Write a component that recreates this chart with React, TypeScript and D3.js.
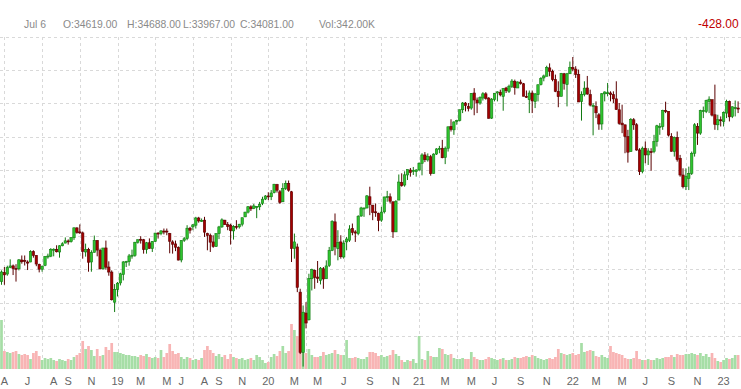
import React, { useEffect } from "react";
import * as d3 from "d3";

const W = 741;
const H = 389;

// Header texts
const HEADER_ITEMS = [
  { text: "Jul 6", x: 24 },
  { text: "O:34619.00", x: 63 },
  { text: "H:34688.00", x: 127 },
  { text: "L:33967.00", x: 183 },
  { text: "C:34081.00", x: 240 },
  { text: "Vol:342.00K", x: 319 },
];
const CHANGE_TEXT = "-428.00";

// Weekly bars (week ending Fridays), from 2018-03-30 to 2023-02-10
const FIRST_WEEK = new Date(2018, 2, 30);
const LAST_WEEK_END = new Date(2023, 1, 11);

const OPEN = [
  23530,24070,23980,24380,24470,24320,24300,24820,24800,24700,
  24700,25320,25100,24560,24270,24500,25010,25050,25450,25460,
  25300,25670,25830,25960,25920,26150,26740,26500,26440,25300,
  25450,24700,25280,25990,25400,24300,25540,24400,24100,22300,
  23060,23450,23950,24700,24720,25060,25100,25880,26060,26030,
  25450,25850,25500,25930,26430,26400,26550,26550,26400,25900,
  25780,25580,24820,26000,26100,26720,26800,26900,27330,27150,
  27200,26400,26300,25900,25630,26400,26800,27200,26930,26900,
  26560,26830,26800,26960,27400,27680,28000,27900,28000,28000,
  28200,28460,28650,28600,28850,29330,28900,28300,29100,29400,
  28900,25500,25600,22900,19300,21650,21250,23700,24200,23800,
  23600,24300,23700,24500,25400,27100,25500,25900,25000,25900,
  26000,26700,26500,26400,27450,27900,27930,28600,28100,27700,
  27600,27200,27700,28600,28600,28300,26500,28400,29450,29300,
  29900,30200,30100,30100,30200,30600,31100,30800,30990,30000,
  31150,31450,31500,30950,31500,32800,32600,33100,33150,33800,
  34200,34000,33900,34800,34380,34200,34500,34750,34500,33300,
  34400,34800,34850,34600,35100,34900,35200,35500,35100,35450,
  35350,34600,34400,34800,34300,34700,35300,35700,35800,36300,
  36100,35600,34900,34600,35950,35300,35950,36320,36230,35900,
  34300,34700,35100,34700,34000,34000,33500,32950,34750,34800,
  34800,34700,34450,33800,33000,32900,32200,31300,33200,32900,
  31400,30100,31500,31100,31300,31300,31900,32800,32800,33750,
  33700,32200,31300,32150,30900,29900,29200,29700,30000,31200,
  32800,32400,33700,33700,34300,34400,33500,32900,33200,33100,
  33600,34300,33400,33900,33900,
];

const HIGH = [
  24200,24400,24480,24860,24550,24570,24870,25090,25090,24800,
  25400,25400,25100,24600,24460,25060,25200,25530,25520,25700,
  25700,25880,26170,26050,26180,26760,26770,26950,26520,25800,
  25550,25400,26280,26000,25500,25540,25980,24740,24200,23380,
  23500,24060,24750,24770,25180,25440,25900,26050,26240,26080,
  25900,26110,25950,26450,26480,26600,26700,26700,26440,26000,
  25980,25630,26000,26200,26900,26800,26970,27400,27400,27300,
  27400,26450,26400,26300,26400,26860,27310,27220,27090,26990,
  26900,27200,26980,27350,27700,28040,28090,28170,28040,28290,
  28600,28700,28870,29000,29370,29370,29000,29410,29570,29570,
  28950,26400,25800,23100,22100,22300,24000,24300,24250,24760,
  24400,24400,24800,25600,27200,27600,26600,26300,26000,26200,
  26900,27000,26600,27500,28000,27950,28700,29200,28100,28200,
  27650,28000,28600,28950,28800,28300,28400,29930,30000,30120,
  30230,30320,30380,30250,30650,31200,31270,31190,31100,31200,
  31500,31640,32000,31600,32800,33230,33100,33200,33800,34260,
  34260,34200,34800,35090,34530,34600,34850,34850,34550,34500,
  34800,34900,35000,35100,35170,35300,35630,35600,35500,35600,
  35400,34950,34950,34950,34800,35300,35750,35900,36430,36570,
  36200,35900,35500,36000,36000,36000,36680,36950,36400,36200,
  34900,35500,35820,35000,34200,34300,33600,34800,34900,35400,
  34900,34900,35500,34200,34100,32900,32600,33300,33300,33000,
  31500,31600,31900,31500,31500,32300,32900,33000,33800,34280,
  33700,32400,32200,32500,31100,30300,30300,30400,31300,33000,
  33000,33800,33990,34400,34600,34400,35300,33500,33400,33700,
  34400,34350,34000,34350,34300,
];

const LOW = [
  23340,23340,23880,24330,23920,23530,24200,24600,24490,24220,
  24690,24960,24450,24080,24120,24450,24900,24990,25040,25270,
  24960,25640,25820,25740,25860,26020,26390,26380,24900,25020,
  24120,24120,25270,25040,24270,24240,24240,23880,22400,21710,
  22640,23300,23600,24400,24480,24900,25010,25800,25800,25200,
  25200,25500,25300,25900,26100,26300,26350,26300,25220,25200,
  25350,24800,24680,25900,26000,26400,26600,26700,27050,27100,
  26200,25400,25300,25550,25600,26070,26740,26930,26600,25740,
  26040,26650,26700,26830,27380,27600,27750,27860,27320,27800,
  28100,28400,28400,28400,28800,28850,28170,28280,29000,28900,
  24700,24900,22900,19200,18450,20730,21200,23000,23100,23450,
  23360,23100,23700,24400,25350,25100,24800,24900,24900,25400,
  25900,26300,25900,26300,27400,27400,27900,27500,27200,27400,
  26540,27100,27600,28300,28200,26140,26500,28400,29200,29200,
  29600,29800,29900,29800,30150,29880,30670,30700,29860,29980,
  31100,31200,30900,30550,31300,32500,32300,32900,33100,33600,
  33700,33700,33800,33470,33600,34100,34350,34400,33270,33250,
  34300,34300,34600,33740,34800,34800,35100,34700,35100,35300,
  34600,34500,33600,33600,33900,34300,35250,35500,35800,35800,
  35500,34850,33950,34600,35000,34000,35950,36100,35700,34260,
  33150,34600,34700,34000,32270,33300,32600,32600,34300,34600,
  34300,34200,33800,32900,32400,31200,30640,31300,32600,31350,
  29900,30000,30600,30500,30150,31200,31600,32300,32600,33600,
  32200,31300,31000,30700,29800,29100,29000,29000,29900,31000,
  31700,32300,33300,33600,33600,33400,32600,32580,32800,32800,
  33300,33100,33300,33400,33600,
];

const CLOSE = [
  24103,23932,24360,24463,24311,24263,24831,24715,24753,24635,
  25317,25090,24580,24271,24456,25019,25058,25451,25463,25313,
  25669,25790,25965,25917,26155,26744,26458,26447,25340,25444,
  24688,25271,25989,25413,24285,25538,24389,24100,22445,23062,
  23433,23996,24706,24737,25064,25106,25883,26031,26026,25450,
  25849,25502,25929,26425,26412,26559,26543,26505,25942,25764,
  25586,24815,25984,26090,26719,26600,26922,27332,27154,27192,
  26485,26287,25886,25629,26403,26797,27220,26935,26820,26573,
  26817,26770,26958,27347,27681,28005,27876,28051,28015,28135,
  28455,28645,28634,28824,29348,28990,28256,29102,29398,28992,
  25500,25900,23186,19300,21700,21053,23719,24242,23775,23724,
  24331,23685,24465,25383,27111,25606,25871,25016,25827,26075,
  26672,26470,26428,27433,27931,27930,28654,28133,27666,27657,
  27174,27682,28587,28606,28335,26502,28323,29479,29263,29910,
  30218,30046,30179,30199,30606,31098,30814,30997,29983,31148,
  31458,31494,30932,31496,32779,32628,33073,33153,33801,34200,
  34043,33875,34778,34382,34208,34529,34756,34480,33290,34433,
  34786,34870,34688,35061,34935,35208,35515,35120,35455,35369,
  34607,34584,34798,34326,34746,35295,35677,35820,36328,36100,
  35602,34899,34580,35971,35365,35951,36338,36231,35912,34265,
  34725,35090,34738,34079,34059,33615,32944,34755,34861,34818,
  34721,34451,33811,32977,32899,32197,31262,33213,32900,31393,
  30100,31501,31097,31338,31288,31899,32845,32803,33761,33707,
  32283,31318,32152,30822,29900,29200,29800,30000,31200,32900,
  32403,33748,33746,34347,34430,33477,32920,33204,33147,33631,
  34303,33375,33978,33926,33869,
];

// Weekly volume, in thousands
const VOLUME = [
  4900,1800,1700,1600,1700,1800,1500,1400,1500,1400,
  1000,1600,1800,1300,900,1100,1000,1100,900,800,
  1000,900,800,1000,900,1200,1400,1600,2800,2000,
  2300,1900,1300,2000,1300,1400,2200,1900,2600,1700,
  1700,1600,1500,1400,1400,1300,1300,1200,1400,1300,
  1500,1200,1100,1200,1100,1900,1200,1600,2500,1800,
  1500,1600,1200,1000,1200,1100,900,1000,900,1100,
  1900,2300,1900,1600,1300,1500,1200,1400,1000,1500,
  1200,1100,1000,1100,900,1000,1100,900,1400,1200,
  900,600,700,1200,1500,1300,1800,2300,1600,1800,
  4500,3900,3300,3000,2900,1600,2000,1400,1200,1200,
  1300,1700,1400,1500,1600,1900,1500,1400,1400,2900,
  1100,1100,1200,1100,1000,1000,1200,1700,1700,1600,
  1300,1400,1200,1300,1400,1900,1500,1300,900,700,
  900,800,1000,600,3300,1000,900,1800,1300,1200,
  1200,2100,2000,1500,1400,1500,1100,1000,1000,1100,
  1000,1000,1700,1200,1000,900,900,1000,1200,1100,
  1000,900,1000,1100,900,900,1000,1200,1100,1100,
  1200,1300,1200,1400,1300,1100,1000,900,1000,1100,
  1000,1200,2000,1600,1500,1400,1500,1600,1400,1500,
  2600,1700,1800,1900,1800,1300,1200,1400,1200,1100,
  2300,1700,1600,1500,1400,1100,1000,1000,1100,1800,
  1000,900,900,1000,900,900,1100,1000,1100,1200,
  1200,1400,1200,1500,1400,1400,1500,1500,1600,1500,
  1400,1600,1300,1500,1200,1600,1100,800,700,900,
  1100,1000,1100,1400,1400,
];

// Price scale extent (top and bottom of plot area)
const PRICE_LO = 18306;
const PRICE_HI = 38147;
const VOL_MAX = 5200;

// Month tick labels: [year, month(0-based), label]
const MONTH_LABELS: [number, number, string][] = [
  [2018, 3, "A"], [2018, 5, "J"], [2018, 7, "A"], [2018, 8, "S"], [2018, 10, "N"],
  [2019, 0, "19"], [2019, 2, "M"], [2019, 4, "M"], [2019, 5, "J"], [2019, 7, "A"], [2019, 8, "S"], [2019, 10, "N"],
  [2020, 0, "20"], [2020, 2, "M"], [2020, 4, "M"], [2020, 6, "J"], [2020, 8, "S"], [2020, 10, "N"],
  [2021, 0, "21"], [2021, 2, "M"], [2021, 4, "M"], [2021, 6, "J"], [2021, 8, "S"], [2021, 10, "N"],
  [2022, 0, "22"], [2022, 2, "M"], [2022, 4, "M"], [2022, 6, "J"], [2022, 8, "S"], [2022, 10, "N"],
  [2023, 0, "23"],
];
const GRID_MONTHS = [0, 3, 6, 9];

const UP_FILL = "#2fc42f";
const UP_STROKE = "#127a12";
const DOWN_FILL = "#a30000";
const DOWN_STROKE = "#5a0000";
const VOL_UP = "#a6dea6";
const VOL_DOWN = "#f8b4b4";
const GRID = "#d9d9d9";
const FONT = "'Liberation Sans', Arial, sans-serif";

export default function App() {
  useEffect(() => {
    document.body.style.margin = "0";
  }, []);

  const dates = d3.timeFriday.range(FIRST_WEEK, LAST_WEEK_END);
  const n = CLOSE.length;
  const step = 2.9;
  const x = d3.scaleLinear().domain([0, n - 1]).range([1.5, 1.5 + step * (n - 1)]);
  const y = d3.scaleLinear().domain([PRICE_LO, PRICE_HI]).range([369, 37]);
  const v = d3.scaleLinear().domain([0, VOL_MAX]).range([369, 317]);

  const firstIndexOf = (yr: number, mo: number) =>
    dates.findIndex((d) => d.getFullYear() === yr && d.getMonth() === mo);

  const gridIdx: number[] = [];
  const years = d3.range(2018, 2024);
  years.forEach((yr) =>
    GRID_MONTHS.forEach((mo) => {
      const i = firstIndexOf(yr, mo);
      if (i >= 0 && i < n) gridIdx.push(i);
    })
  );

  const hTicks = d3.range(10).map((k) => PRICE_HI - (k * (PRICE_HI - PRICE_LO)) / 10);

  const bars = d3.range(n).map((i) => ({
    i,
    o: OPEN[i],
    h: HIGH[i],
    l: LOW[i],
    c: CLOSE[i],
    vol: VOLUME[i],
    up: CLOSE[i] >= OPEN[i],
  }));

  const bodyW = 2.4;
  const volW = 2.7;

  return (
    <svg
      width={W}
      height={H}
      viewBox={`0 0 ${W} ${H}`}
      style={{ position: "absolute", left: 0, top: 0, background: "#fff", display: "block" }}
      fontFamily={FONT}
    >
      <rect x={0} y={0} width={W} height={H} fill="#fff" />
      {/* grid */}
      <g stroke={GRID} strokeWidth={1} strokeDasharray="3,3" shapeRendering="crispEdges">
        {hTicks.map((p, k) => (
          <line key={"h" + k} x1={0} x2={W} y1={Math.round(y(p)) + 0.5} y2={Math.round(y(p)) + 0.5} />
        ))}
        {gridIdx.map((i) => (
          <line key={"v" + i} x1={Math.round(x(i)) + 0.5} x2={Math.round(x(i)) + 0.5} y1={37} y2={369} />
        ))}
      </g>
      {/* volume */}
      <g>
        {bars.map((b) => (
          <rect
            key={"vol" + b.i}
            x={x(b.i) - volW / 2}
            y={v(b.vol)}
            width={volW}
            height={369 - v(b.vol)}
            fill={b.up ? VOL_UP : VOL_DOWN}
          />
        ))}
      </g>
      {/* candles */}
      <g>
        {bars.map((b) => {
          const cx = x(b.i);
          const top = y(Math.max(b.o, b.c));
          const bot = y(Math.min(b.o, b.c));
          const hgt = Math.max(1, bot - top);
          return (
            <g key={"c" + b.i}>
              <line
                x1={cx}
                x2={cx}
                y1={y(b.h)}
                y2={y(b.l)}
                stroke={b.up ? UP_STROKE : DOWN_STROKE}
                strokeWidth={1}
              />
              <rect
                x={cx - bodyW / 2}
                y={top}
                width={bodyW}
                height={hgt}
                fill={b.up ? UP_FILL : DOWN_FILL}
                stroke={b.up ? UP_STROKE : DOWN_STROKE}
                strokeWidth={0.6}
              />
            </g>
          );
        })}
      </g>
      {/* header */}
      <g fontSize={10.4} fill="#8a8a8a">
        {HEADER_ITEMS.map((t) => (
          <text key={t.text} x={t.x} y={28}>
            {t.text}
          </text>
        ))}
      </g>
      <text x={698} y={28} fontSize={12} fill="#c00000">
        {CHANGE_TEXT}
      </text>
      {/* x axis labels */}
      <g fontSize={11} fill="#666" textAnchor="middle">
        {MONTH_LABELS.map(([yr, mo, lab]) => {
          const i = firstIndexOf(yr, mo);
          if (i < 0) return null;
          return (
            <text key={`${yr}-${mo}`} x={x(i)} y={385}>
              {lab}
            </text>
          );
        })}
      </g>
    </svg>
  );
}
